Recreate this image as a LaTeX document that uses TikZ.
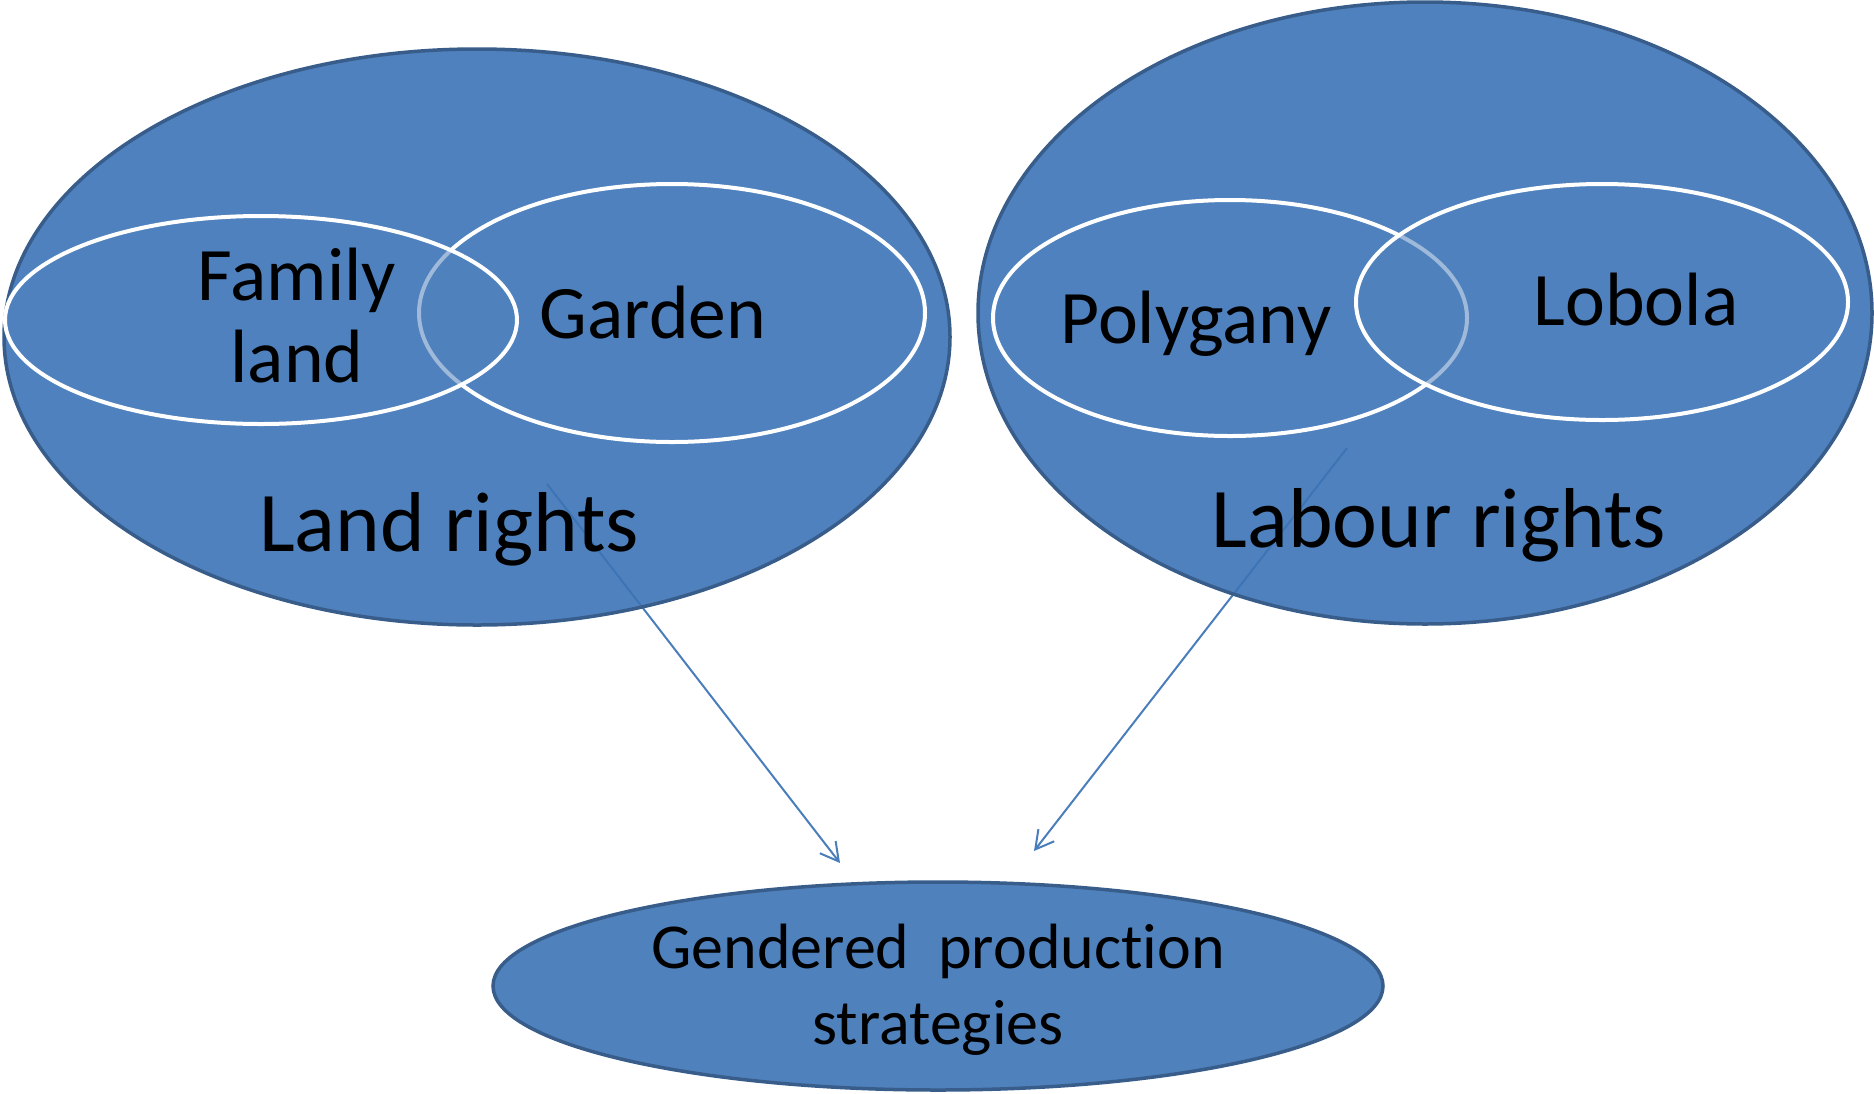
\documentclass[tikz,border=0pt]{standalone}
\usepackage{fontspec}
\setmainfont{Carlito}[Ligatures=NoCommon]
\usetikzlibrary{shapes.geometric,arrows.meta}
\definecolor{setblue}{HTML}{4F81BD}
\definecolor{setdeep}{HTML}{3B73B6}
\definecolor{setedge}{HTML}{385D8A}
\definecolor{flowblue}{HTML}{4A7EBB}
\tikzset{
  bigset/.style={ellipse, fill=setdeep, fill opacity=0.9, draw=setedge, line width=1.75pt},
  subset/.style={ellipse, fill=setblue, fill opacity=0.55, draw=white, line width=2pt},
  flow/.style={draw=flowblue, line width=1pt, -{Straight Barb[length=9pt,width=10pt]}},
  bigtext/.style={font=\fontsize{42.5}{50}\selectfont, inner sep=0pt, anchor=base},
  subtext/.style={font=\fontsize{37.8}{41}\selectfont, inner sep=0pt, align=center},
  goaltext/.style={font=\fontsize{32}{38}\selectfont, inner sep=0pt, align=center},
}
\begin{document}
\begin{tikzpicture}[x=0.5pt, y=-0.5pt]
  \useasboundingbox (0,0) rectangle (1874,1093);
  % the arrows go under the two big sets
  \coordinate (landfrom) at (547,484);
  \coordinate (landto) at (840,863);
  \coordinate (labourfrom) at (1347,448);
  \coordinate (labourto) at (1034,851);
  \draw[flow] (landfrom) -- (landto);
  \draw[flow] (labourfrom) -- (labourto);
  \begin{scope}
    \node[bigset, minimum width=473pt, minimum height=288pt] (land) at (477,337) {};
    \node[subset, minimum width=253pt, minimum height=129pt] (garden) at (672,313) {};
    \node[subset, minimum width=256pt, minimum height=104pt] (family) at (261,320) {};
    \node[subtext, anchor=base] (gardentext) at (653,338) {Garden};
    \node[subtext] (familytext) at (297,316) {Family\\land};
    \node[bigtext] (landtext) at (449,551) {Land rights};
  \end{scope}
  \begin{scope}
    \node[bigset, minimum width=447pt, minimum height=311pt] (labour) at (1425,313) {};
    \node[subset, minimum width=237pt, minimum height=118pt] (polygany) at (1230,318) {};
    \node[subset, minimum width=246pt, minimum height=118pt] (lobola) at (1602,302) {};
    \node[subtext, anchor=base] (polyganytext) at (1196,343) {Polygany};
    \node[subtext, anchor=base] (lobolatext) at (1636,325) {Lobola};
    \node[bigtext] (labourtext) at (1439,547) {Labour rights};
  \end{scope}
  \node[bigset, fill=setblue, fill opacity=1, minimum width=445pt, minimum height=104pt] (gendered) at (938,986) {};
  \node[goaltext] (genderedtext) at (938,990) {Gendered~ production\\strategies};
\end{tikzpicture}
\end{document}
